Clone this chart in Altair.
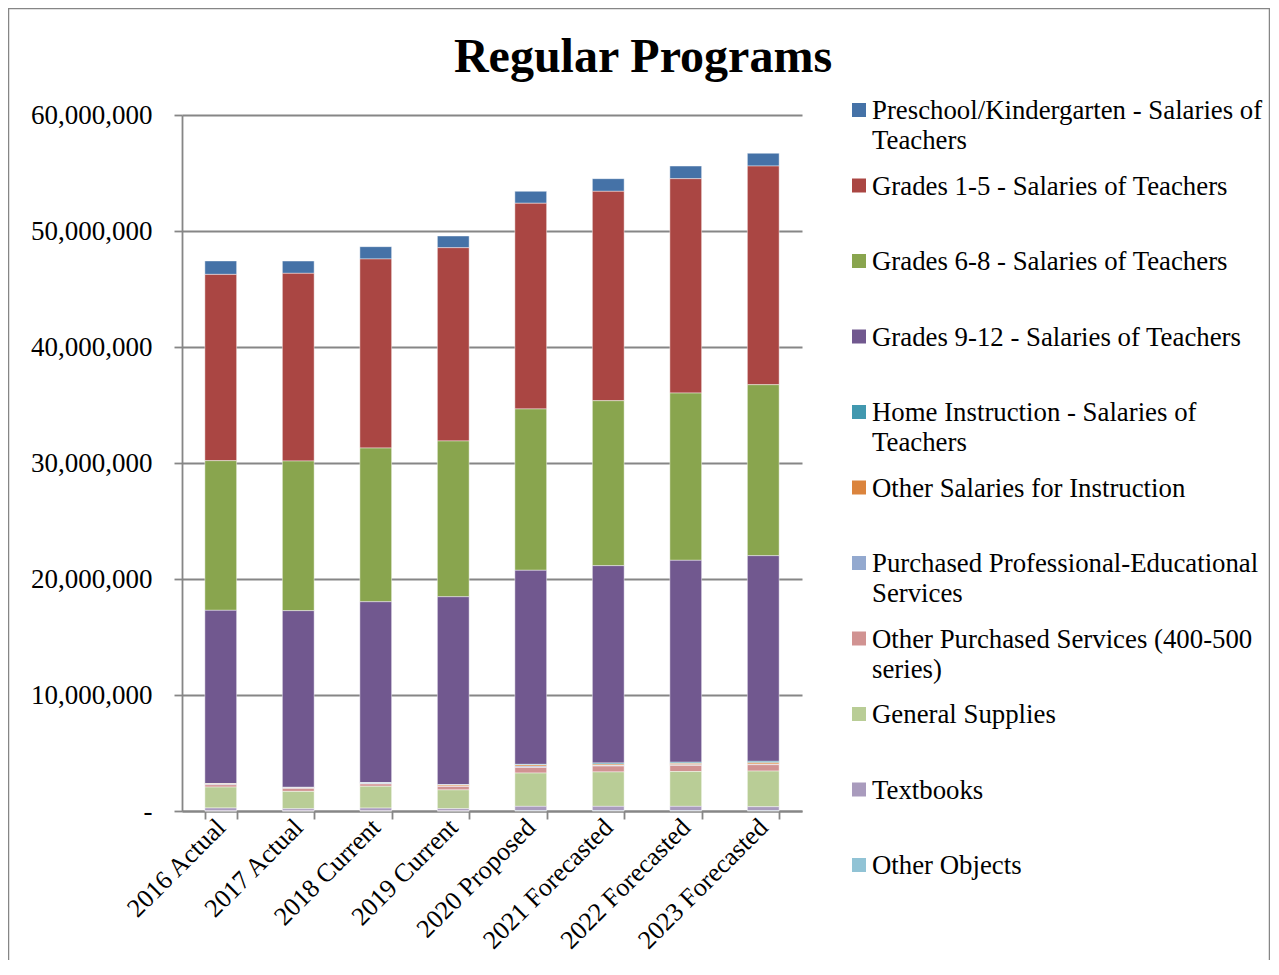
import altair as alt
import pandas as pd

years = ["2016 Actual", "2017 Actual", "2018 Current", "2019 Current",
         "2020 Proposed", "2021 Forecasted", "2022 Forecasted", "2023 Forecasted"]

series = [
    "Preschool/Kindergarten - Salaries of Teachers",
    "Grades 1-5 - Salaries of Teachers",
    "Grades 6-8 - Salaries of Teachers",
    "Grades 9-12 - Salaries of Teachers",
    "Home Instruction - Salaries of Teachers",
    "Other Salaries for Instruction",
    "Purchased Professional-Educational Services",
    "Other Purchased Services (400-500 series)",
    "General Supplies",
    "Textbooks",
    "Other Objects",
]

legend_labels = [
    "Preschool/Kindergarten - Salaries of\nTeachers",
    "Grades 1-5 - Salaries of Teachers",
    "Grades 6-8 - Salaries of Teachers",
    "Grades 9-12 - Salaries of Teachers",
    "Home Instruction - Salaries of\nTeachers",
    "Other Salaries for Instruction",
    "Purchased Professional-Educational\nServices",
    "Other Purchased Services (400-500\nseries)",
    "General Supplies",
    "Textbooks",
    "Other Objects",
]

colors = ["#4572A7", "#AA4643", "#89A54E", "#71588F", "#4198AF", "#DB843D",
          "#93A9CF", "#D19392", "#B9CD96", "#A99BBD", "#91C3D5"]

# values in millions of dollars
preschool   = [1.16, 1.06, 1.06, 1.01, 1.03, 1.09, 1.09, 1.10]
grades_1_5  = [16.06, 16.18, 16.30, 16.66, 17.73, 18.05, 18.48, 18.85]
grades_6_8  = [12.90, 12.90, 13.25, 13.43, 13.91, 14.22, 14.42, 14.74]
grades_9_12 = [14.94, 15.23, 15.60, 16.20, 16.73, 17.01, 17.41, 17.73]
home_instr  = [0.02, 0.01, 0.02, 0.02, 0.05, 0.10, 0.10, 0.12]
other_sal   = [0.02, 0.02, 0.03, 0.10, 0.12, 0.12, 0.12, 0.12]
prof_serv   = [0.06, 0.06, 0.06, 0.03, 0.10, 0.05, 0.05, 0.05]
other_purch = [0.20, 0.26, 0.20, 0.30, 0.48, 0.50, 0.53, 0.55]
supplies    = [1.80, 1.50, 1.88, 1.62, 2.87, 2.97, 3.00, 3.07]
textbooks   = [0.25, 0.18, 0.24, 0.19, 0.37, 0.37, 0.37, 0.34]
other_obj   = [0.01, 0.01, 0.01, 0.01, 0.03, 0.03, 0.03, 0.03]

all_values = [preschool, grades_1_5, grades_6_8, grades_9_12, home_instr, other_sal,
              prof_serv, other_purch, supplies, textbooks, other_obj]

y_ticks = [0, 10000000, 20000000, 30000000, 40000000, 50000000, 60000000]

rows = []
for si, s in enumerate(series):
    for yi, yr in enumerate(years):
        rows.append({"year": yr, "series": s,
                     "value": all_values[si][yi] * 1e6,
                     "order": len(series) - si})
df = pd.DataFrame(rows)

leg_df = pd.DataFrame({"series": series, "label": legend_labels,
                       "idx": list(range(len(series)))})

FONT = "Liberation Serif"
GRAY = "#868686"

color = alt.Color("series:N", scale=alt.Scale(domain=series, range=colors), legend=None)

bars = alt.Chart(df).mark_bar(stroke="white", strokeWidth=0.8, strokeOpacity=0.55).encode(
    x=alt.X("year:N", sort=years, title=None,
            scale=alt.Scale(paddingInner=0.59, paddingOuter=0.295),
            axis=alt.Axis(labelAngle=-45, labelAlign="right", labelBaseline="middle",
                          labelFontSize=26,
                          tickBand="extent", tickSize=8, tickWidth=1.8, domainWidth=1.8,
                          labelPadding=4, grid=False)),
    y=alt.Y("value:Q", stack="zero", title=None,
            scale=alt.Scale(domain=[0, 60000000], nice=False),
            axis=alt.Axis(values=y_ticks,
                          labelExpr="datum.value == 0 ? '-' : format(datum.value, ',')",
                          grid=True, gridWidth=1.8, domainWidth=1.8, tickWidth=1.8,
                          tickSize=8, labelPadding=22)),
    color=color,
    order=alt.Order("order:Q", sort="ascending"),
)

leg_y = alt.Y("idx:Q", scale=alt.Scale(domain=[0, 10], range=[-5, 750], nice=False, zero=False),
              axis=None)

leg_sq = alt.Chart(leg_df).mark_square(size=196, opacity=1).encode(
    x=alt.value(677), y=leg_y, color=color)

leg_tx = alt.Chart(leg_df).mark_text(align="left", baseline="alphabetic", dy=9,
                                     lineBreak="\n", lineHeight=30, fontSize=26.8,
                                     font=FONT, color="black").encode(
    x=alt.value(690), y=leg_y, text="label:N")

frame = alt.Chart(pd.DataFrame({"f": [0]})).mark_rect(
    fillOpacity=0, stroke=GRAY, strokeWidth=1.5).encode(
    x=alt.value(-173.5), x2=alt.value(1087.5), y=alt.value(-106.5), y2=alt.value(900))

chart = alt.layer(frame, bars, leg_sq, leg_tx).resolve_scale(y="independent").properties(
    width=620, height=696,
    autosize=alt.AutoSizeParams(type="none"),
    padding={"left": 174, "top": 107, "right": 468, "bottom": 149},
    title=alt.TitleParams("Regular Programs", font=FONT, fontSize=48, fontWeight="bold",
                          anchor="middle", frame="group", dx=151, offset=-74,
                          color="black"),
).configure_view(strokeWidth=0).configure_axis(
    labelFont=FONT, labelFontSize=27, labelColor="black",
    domainColor=GRAY, tickColor=GRAY, gridColor=GRAY,
)

chart.save("out.html", embed_options={"renderer": "svg", "actions": False})
